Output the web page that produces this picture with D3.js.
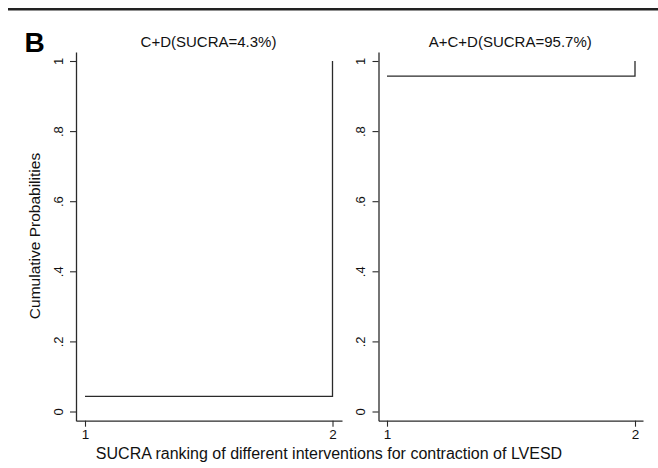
<!DOCTYPE html>
<html>
<head>
<meta charset="utf-8">
<script src="https://cdn.jsdelivr.net/npm/d3@7"></script>
<style>
  html, body { margin: 0; padding: 0; background: #fff; }
  svg { display: block; }
  text { font-family: "Liberation Sans", Arial, sans-serif; fill: #111; }
</style>
</head>
<body>
<svg id="chart" width="658" height="468"></svg>
<script>
// ---- data ----
const panelTitles = ["C+D(SUCRA=4.3%)", "A+C+D(SUCRA=95.7%)"];
const ranks = [1, 2];
const cumProbCD = [0.043, 1];
const cumProbACD = [0.957, 1];
const yTickValues = [0, 0.2, 0.4, 0.6, 0.8, 1];
const yTickLabels = ["0", ".2", ".4", ".6", ".8", "1"];
const xTickLabels = ["1", "2"];
const yAxisTitle = "Cumulative Probabilities";
const xAxisTitle = "SUCRA ranking of different interventions for contraction of LVESD";
const panelLetter = "B";

const series = [cumProbCD, cumProbACD];

const svg = d3.select("#chart");
const lineColor = "#2a2a2a";

// top rule
svg.append("line")
  .attr("x1", 8).attr("x2", 658).attr("y1", 9.3).attr("y2", 9.3)
  .attr("stroke", "#222").attr("stroke-width", 2.6);

svg.append("text")
  .attr("x", 24.5).attr("y", 51.7)
  .attr("font-size", 28).attr("font-weight", "bold")
  .style("fill", "#000")
  .text(panelLetter);

const panels = [
  { axisX: 76, x1: 85, x2: 332.5, xEnd: 342 },
  { axisX: 378.5, x1: 387, x2: 635, xEnd: 643 }
];

const yScale = d3.scaleLinear().domain([0, 1]).range([411.5, 61]);
const yTop = 52, yBottom = 420.7;

panels.forEach((p, i) => {
  const x = d3.scaleLinear().domain([1, 2]).range([p.x1, p.x2]);
  const g = svg.append("g");

  // y axis
  const yAxis = d3.axisLeft(d3.scaleLinear()
      .domain([yScale.invert(yBottom), yScale.invert(yTop)])
      .range([yBottom, yTop]))
    .tickValues(yTickValues)
    .tickFormat((d, k) => yTickLabels[k])
    .tickSizeInner(6).tickSizeOuter(0).tickPadding(3);
  const ya = g.append("g").attr("transform", `translate(${p.axisX},0)`).call(yAxis);
  ya.select(".domain").attr("stroke", lineColor).attr("stroke-width", 1.3);
  ya.selectAll(".tick line").attr("stroke", lineColor).attr("stroke-width", 1.1);
  ya.selectAll(".tick text")
    .attr("font-size", 13)
    .attr("font-family", '"Liberation Sans", Arial, sans-serif')
    .style("fill", "#111")
    .attr("x", null).attr("dy", null)
    .attr("text-anchor", "middle")
    .attr("transform", "translate(-13.5,0) rotate(-90)");

  // x axis
  const xAxis = d3.axisBottom(d3.scaleLinear()
      .domain([x.invert(p.axisX), x.invert(p.xEnd)])
      .range([p.axisX, p.xEnd]))
    .tickValues(ranks)
    .tickFormat((d, k) => xTickLabels[k])
    .tickSizeInner(6).tickSizeOuter(0).tickPadding(3);
  const xa = g.append("g").attr("transform", `translate(0,${yBottom})`).call(xAxis);
  xa.select(".domain").attr("stroke", lineColor).attr("stroke-width", 1.3);
  xa.selectAll(".tick line").attr("stroke", lineColor).attr("stroke-width", 1.1);
  xa.selectAll(".tick text")
    .attr("font-size", 13.5)
    .attr("font-family", '"Liberation Sans", Arial, sans-serif')
    .style("fill", "#111");

  // step line
  const line = d3.line()
    .x((d, k) => x(ranks[k]))
    .y(d => yScale(d))
    .curve(d3.curveStepAfter);
  g.append("path")
    .datum(series[i])
    .attr("d", line)
    .attr("fill", "none")
    .attr("stroke", lineColor)
    .attr("stroke-width", 1.3);

  // title
  g.append("text")
    .attr("x", (p.axisX + p.xEnd) / 2 - 0.5)
    .attr("y", 46.5)
    .attr("text-anchor", "middle")
    .attr("font-size", 15)
    .text(panelTitles[i]);
});

svg.append("text")
  .attr("transform", "translate(40,236) rotate(-90)")
  .attr("text-anchor", "middle")
  .attr("font-size", 15.5)
  .text(yAxisTitle);

svg.append("text")
  .attr("x", 329)
  .attr("y", 459)
  .attr("text-anchor", "middle")
  .attr("font-size", 16)
  .text(xAxisTitle);
</script>
</body>
</html>
